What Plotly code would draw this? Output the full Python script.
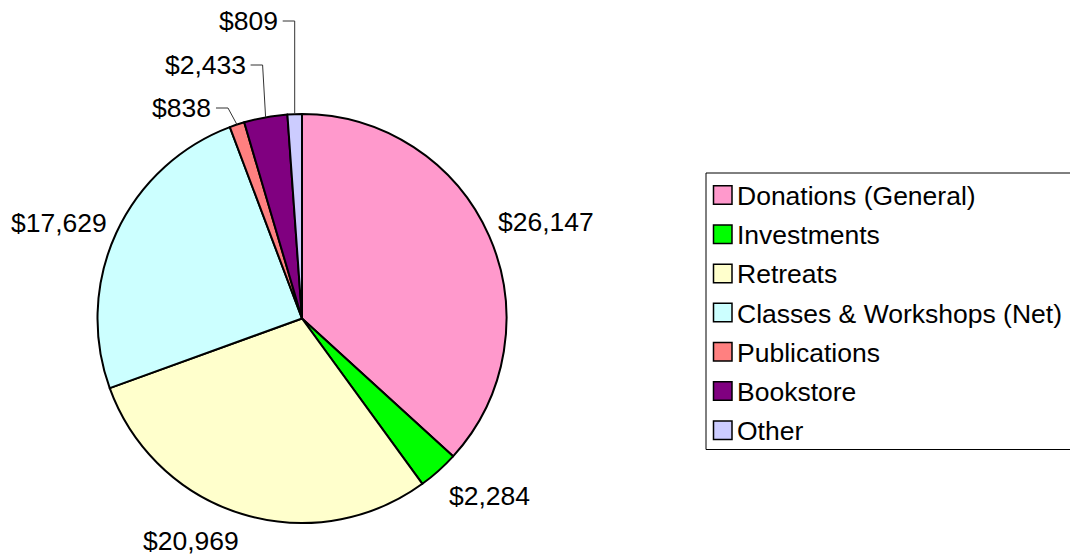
import math
import plotly.graph_objects as go

# ---- data ----
categories = ["Donations (General)", "Investments", "Retreats",
              "Classes & Workshops (Net)", "Publications", "Bookstore", "Other"]
values = [26147, 2284, 20969, 17629, 838, 2433, 809]
colors = ["#FF99CC", "#00FF00", "#FFFFCC", "#CCFFFF", "#FF8080", "#800080", "#CCCCFF"]
value_labels = ["$26,147", "$2,284", "$20,969", "$17,629", "$838", "$2,433", "$809"]

# ---- layout / style ----
W, H = 1070, 559
OFF = 0                                  # page body margin removed via post_script
CX, CY, R = 302, 318.5, 204.5            # pie centre and radius in screen pixels
FONT = "Liberation Sans, Arial, sans-serif"
FS = 26.5

# label style: "box" labels placed around the pie, "leader" labels with elbow lines
label_style = [
    ("box", (4, -4)),
    ("box", (17, 7)),
    ("box", (-34, 3)),
    ("box", (-5, 0)),
    ("leader", (108, 9)),   # (label y px, elbow dx)
    ("leader", (65, 3)),
    ("leader", (21, 0)),
]


def px(x):
    return (x - OFF) / W


def py(y):
    return 1 - (y - OFF) / H


def text_width(s):
    w = 0.0
    for ch in s:
        w += 0.278 if ch in ",." else 0.556
    return w * FS


fig = go.Figure()
fig.add_trace(go.Pie(
    labels=categories, values=values, sort=False, direction="clockwise",
    rotation=0,
    marker=dict(colors=colors, line=dict(color="black", width=2)),
    textinfo="none", hoverinfo="label+value+percent", showlegend=False,
    domain=dict(x=[px(CX - R), px(CX + R)], y=[py(CY + R), py(CY - R)]),
))

annotations = []
shapes = []
total = sum(values)
cum = 0.0
for i, v in enumerate(values):
    mid = (cum + v / 2) / total * 2 * math.pi
    cum += v
    dx, dy = math.sin(mid), -math.cos(mid)
    kind, params = label_style[i]
    if kind == "box":
        w = text_width(value_labels[i])
        h = 30
        r2 = R + 10
        bx = CX + r2 * dx + dx * w / 2 + params[0]
        by = CY + r2 * dy + dy * h / 2 + params[1]
        annotations.append(dict(
            x=px(bx), y=py(by), xref="paper", yref="paper",
            text=value_labels[i], showarrow=False,
            xanchor="center", yanchor="middle",
            font=dict(family=FONT, size=FS, color="black")))
    else:
        ly, elbow = params
        ex, ey = CX + R * dx, CY + R * dy
        kx = ex - elbow
        hx = kx - 12
        shapes.append(dict(
            type="path", xref="paper", yref="paper",
            path=f"M{px(ex)},{py(ey)} L{px(kx)},{py(ly)} L{px(hx)},{py(ly)}",
            line=dict(color="#333333", width=1)))
        annotations.append(dict(
            x=px(hx - 3), y=py(ly), xref="paper", yref="paper",
            text=value_labels[i], showarrow=False,
            xanchor="right", yanchor="middle",
            font=dict(family=FONT, size=FS, color="black")))

# ---- custom legend ----
LX0, LY0, LX1, LY1 = 706, 173, 1072, 449.5
shapes.append(dict(type="rect", xref="paper", yref="paper",
                   x0=px(LX0), x1=px(LX1), y0=py(LY1), y1=py(LY0),
                   line=dict(color="black", width=1), fillcolor="rgba(0,0,0,0)"))
row0, step = 195, 39.2
for i, name in enumerate(categories):
    yc = row0 + i * step
    shapes.append(dict(type="rect", xref="paper", yref="paper",
                       x0=px(713.5), x1=px(732), y0=py(yc + 9.25), y1=py(yc - 9.25),
                       line=dict(color="black", width=1.5), fillcolor=colors[i]))
    annotations.append(dict(
        x=px(735), y=py(yc + 1), xref="paper", yref="paper",
        text=name, showarrow=False, xanchor="left", yanchor="middle",
        font=dict(family=FONT, size=FS, color="black")))

fig.update_layout(
    width=W, height=H, autosize=False,
    margin=dict(l=0, r=0, t=0, b=0),
    paper_bgcolor="white", plot_bgcolor="white",
    showlegend=False,
    annotations=annotations, shapes=shapes,
)

fig.write_html("out.html",
               config={"displayModeBar": False},
               post_script="document.body.style.margin='0';document.body.style.overflow='hidden';")
